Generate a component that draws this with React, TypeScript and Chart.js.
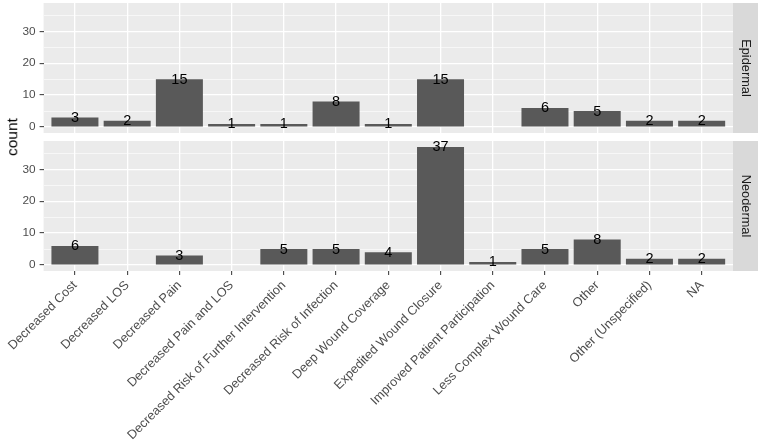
import { useEffect, useRef } from "react";
import { Chart, registerables } from "chart.js";

Chart.register(...registerables);

// Reasons reported, one bar per reason in each panel
const categories = [
  "Decreased Cost",
  "Decreased LOS",
  "Decreased Pain",
  "Decreased Pain and LOS",
  "Decreased Risk of Further Intervention",
  "Decreased Risk of Infection",
  "Deep Wound Coverage",
  "Expedited Wound Closure",
  "Improved Patient Participation",
  "Less Complex Wound Care",
  "Other",
  "Other (Unspecified)",
  "NA",
];

// null = no observations for that reason (no bar drawn)
const epidermalCounts = [3, 2, 15, 1, 1, 8, 1, 15, null, 6, 5, 2, 2];
const neodermalCounts = [6, null, 3, null, 5, 5, 4, 37, 1, 5, 8, 2, 2];

const panelLabels = ["Epidermal", "Neodermal"];

const yMajorTicks = [0, 10, 20, 30];
const yMinorTicks = [5, 15, 25, 35];
const yMin = -1.85;
const yMax = 38.85;

const FONT = "'Liberation Sans', Arial, Helvetica, sans-serif";
const PANEL_BG = "#EBEBEB";
const STRIP_BG = "#D9D9D9";
const BAR_FILL = "#595959";
const AXIS_TEXT = "#4D4D4D";
const TICK_MARK = "#333333";

const Y_AXIS_WIDTH = 43.6;
const STRIP_WIDTH = 25;
const RIGHT_PAD = 27;

const facetPlugin = {
  id: "facetPanel",
  beforeDraw(chart: any) {
    const { ctx, chartArea } = chart;
    ctx.save();
    ctx.fillStyle = PANEL_BG;
    ctx.fillRect(chartArea.left, chartArea.top, chartArea.right - chartArea.left, chartArea.bottom - chartArea.top);
    ctx.restore();
  },
  afterDatasetsDraw(chart: any) {
    const { ctx } = chart;
    const meta = chart.getDatasetMeta(0);
    const ds = chart.data.datasets[0].data as any[];
    const yScale = chart.scales.y;
    ctx.save();
    ctx.fillStyle = "#000000";
    ctx.font = `14.5px ${FONT}`;
    ctx.textAlign = "center";
    ctx.textBaseline = "middle";
    meta.data.forEach((bar: any, i: number) => {
      const v = ds[i].y;
      if (v === null || v === undefined) return;
      ctx.fillText(String(v), bar.x, yScale.getPixelForValue(v) + 0.5);
    });
    ctx.restore();
  },
  afterDraw(chart: any, _args: any, opts: any) {
    const { ctx, chartArea } = chart;
    const x0 = chartArea.right;
    const h = chartArea.bottom - chartArea.top;
    ctx.save();
    ctx.fillStyle = STRIP_BG;
    ctx.fillRect(x0, chartArea.top, STRIP_WIDTH, h);
    ctx.translate(x0 + STRIP_WIDTH / 2, chartArea.top + h / 2);
    ctx.rotate(Math.PI / 2);
    ctx.fillStyle = "#1A1A1A";
    ctx.font = `12.8px ${FONT}`;
    ctx.textAlign = "center";
    ctx.textBaseline = "middle";
    ctx.fillText(opts.label, 0, 0);
    ctx.restore();
  },
};

function makeConfig(values: (number | null)[], label: string, showX: boolean, pad: any, xHeight: number): any {
  return {
    type: "bar",
    data: {
      datasets: [
        {
          data: values.map((v, i) => ({ x: i, y: v })),
          backgroundColor: BAR_FILL,
          borderWidth: 0,
          barPercentage: 0.9,
          categoryPercentage: 1,
        },
      ],
    },
    options: {
      animation: false,
      responsive: false,
      events: [],
      layout: { padding: pad },
      plugins: {
        legend: { display: false },
        tooltip: { enabled: false },
        facetPanel: { label },
      },
      scales: {
        x: {
          type: "linear",
          offset: false,
          min: -0.6,
          max: categories.length - 1 + 0.6,
          afterBuildTicks: (s: any) => {
            s.ticks = categories.map((_, i) => ({ value: i }));
          },
          afterFit: (s: any) => {
            s.height = xHeight;
            s.paddingLeft = 0;
            s.paddingRight = 0;
          },
          ticks: {
            display: showX,
            autoSkip: false,
            minRotation: 45,
            maxRotation: 45,
            color: AXIS_TEXT,
            font: { family: FONT, size: 12.7 },
            padding: 3,
            callback: (v: number) => categories[Math.round(v)],
          },
          grid: {
            offset: false,
            color: "#FFFFFF",
            lineWidth: 1.3,
            drawTicks: showX,
            tickLength: 4,
            tickColor: TICK_MARK,
            tickWidth: 1,
          },
          border: { display: false },
        },
        y: {
          min: yMin,
          max: yMax,
          afterBuildTicks: (s: any) => {
            s.ticks = [...yMajorTicks, ...yMinorTicks].sort((a, b) => a - b).map((v) => ({ value: v }));
          },
          afterFit: (s: any) => {
            s.width = Y_AXIS_WIDTH;
            s.paddingTop = 0;
            s.paddingBottom = 0;
          },
          ticks: {
            color: AXIS_TEXT,
            font: { family: FONT, size: 11.8 },
            padding: 4,
            autoSkip: false,
            callback: (v: number) => (yMajorTicks.includes(v) ? String(v) : ""),
          },
          grid: {
            color: "#FFFFFF",
            lineWidth: (c: any) => (c.tick && yMajorTicks.includes(c.tick.value) ? 1.3 : 0.6),
            tickLength: 4,
            tickColor: (c: any) => (c.tick && yMajorTicks.includes(c.tick.value) ? TICK_MARK : "rgba(0,0,0,0)"),
            tickWidth: 1,
          },
          border: { display: false },
        },
      },
    },
    plugins: [facetPlugin],
  };
}

export default function App() {
  const topRef = useRef<HTMLCanvasElement>(null);
  const bottomRef = useRef<HTMLCanvasElement>(null);

  useEffect(() => {
    const top = new Chart(
      topRef.current as HTMLCanvasElement,
      makeConfig(epidermalCounts, panelLabels[0], false, { left: 0, right: RIGHT_PAD, top: 3, bottom: 4 }, 0)
    );
    const bottom = new Chart(
      bottomRef.current as HTMLCanvasElement,
      makeConfig(neodermalCounts, panelLabels[1], true, { left: 0, right: RIGHT_PAD, top: 4, bottom: 0 }, 174)
    );
    return () => {
      top.destroy();
      bottom.destroy();
    };
  }, []);

  return (
    <div style={{ position: "absolute", left: 0, top: 0, width: 760, height: 445, background: "#FFFFFF", overflow: "hidden" }}>
      <canvas ref={topRef} width={760} height={137} style={{ position: "absolute", left: 0, top: 0, display: "block" }} />
      <canvas ref={bottomRef} width={760} height={308} style={{ position: "absolute", left: 0, top: 137, display: "block" }} />
      <div
        style={{
          position: "absolute",
          left: 12,
          top: 137,
          transform: "translate(-50%, -50%) rotate(-90deg)",
          fontFamily: FONT,
          fontSize: 15.5,
          color: "#000000",
          whiteSpace: "nowrap",
          lineHeight: 1,
        }}
      >
        count
      </div>
    </div>
  );
}
